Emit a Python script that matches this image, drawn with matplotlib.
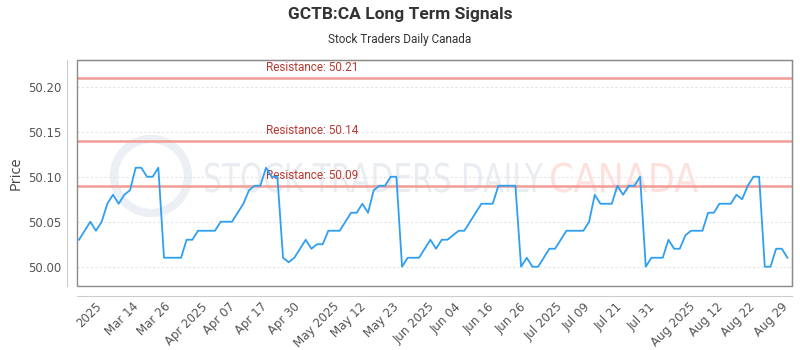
import numpy as np
import matplotlib
matplotlib.use("Agg")
import matplotlib.pyplot as plt
from matplotlib.patches import Rectangle, Circle, PathPatch
from matplotlib.textpath import TextPath
from matplotlib.font_manager import FontProperties
from matplotlib.transforms import IdentityTransform, Affine2D

# Daily closes, one value per trading day
prices = [
    50.03, 50.04, 50.05, 50.04, 50.05, 50.07, 50.08, 50.07, 50.08, 50.085,
    50.11, 50.11, 50.10, 50.10, 50.11, 50.01, 50.01, 50.01, 50.01, 50.03,
    50.03, 50.04, 50.04, 50.04, 50.04, 50.05,
    50.05, 50.05, 50.06, 50.07, 50.085, 50.09, 50.09, 50.11, 50.10, 50.10,
    50.01, 50.005, 50.01, 50.02, 50.03, 50.02, 50.025, 50.025, 50.04, 50.04,
    50.04, 50.05, 50.06, 50.06, 50.07, 50.06,
    50.085, 50.09, 50.09, 50.10, 50.10, 50.00, 50.01, 50.01, 50.01, 50.02,
    50.03, 50.02, 50.03, 50.03, 50.035, 50.04, 50.04, 50.05, 50.06, 50.07,
    50.07, 50.07, 50.09, 50.09, 50.09,
    50.09, 50.00, 50.01, 50.00, 50.00, 50.01, 50.02, 50.02, 50.03, 50.04,
    50.04, 50.04, 50.04, 50.05, 50.08, 50.07, 50.07, 50.07, 50.09, 50.08,
    50.09, 50.09, 50.10, 50.00, 50.01, 50.01,
    50.01, 50.03, 50.02, 50.02, 50.035, 50.04, 50.04, 50.04, 50.06, 50.06,
    50.07, 50.07, 50.07, 50.08, 50.075, 50.09, 50.10, 50.10, 50.00, 50.00,
    50.02, 50.02, 50.01,
]

date_labels = [
    "2025", "Mar 14", "Mar 26", "Apr 2025", "Apr 07", "Apr 17", "Apr 30",
    "May 2025", "May 12", "May 23", "Jun 2025", "Jun 04", "Jun 16", "Jun 26",
    "Jul 2025", "Jul 09", "Jul 21", "Jul 31", "Aug 2025", "Aug 12", "Aug 22",
    "Aug 29",
]

resistance = [50.21, 50.14, 50.09]

x = np.arange(len(prices))

fig = plt.figure(figsize=(8, 3.5), dpi=100)
ax = fig.add_axes([77 / 800, 1 - 286 / 350, 715 / 800, 226 / 350])

ax.set_xlim(-0.35, len(prices) - 0.2)
ax.set_ylim(49.9786, 50.2297)


def watermark(text, left, base, width, height, color):
    # squeeze a text path into a given pixel box (the logo font is condensed)
    tp = TextPath((0, 0), text, size=20, prop=FontProperties(family="DejaVu Sans"))
    ext = tp.get_extents()
    tr = (Affine2D().translate(-ext.x0, 0)
          .scale(width / ext.width, height / ext.height)
          .translate(left, 350 - base))
    ax.add_patch(PathPatch(tr.transform_path(tp), transform=IdentityTransform(),
                           facecolor=color, edgecolor="none", zorder=0))


ax.add_patch(Circle((151, 350 - 176), 37, transform=IdentityTransform(),
                    facecolor="none", edgecolor="#eceff4", linewidth=6,
                    zorder=0))
watermark("STOCK TRADERS DAILY", 205, 192, 338, 30, "#e9edf2")
watermark("CANADA", 551, 192, 147, 30, "#fde1dd")

# grid
for yv in [50.00, 50.05, 50.10, 50.15, 50.20]:
    ax.axhline(yv, color="#e4e4e4", linestyle=(0, (2, 2)), linewidth=0.8,
               zorder=1)

for r in resistance:
    ax.axhline(r, color="#f19c95", linewidth=1.8, zorder=2)
    ax.text(33, r + 0.004, f"Resistance: {r:.2f}", color="#b83a32",
            fontsize=8.5, family="Roboto", va="bottom", ha="left", zorder=3)

ax.plot(x, prices, color="#2e9ff2", linewidth=1.3, zorder=4)

yt = [50.00, 50.05, 50.10, 50.15, 50.20]
ax.set_yticks(yt)
ax.set_yticklabels([f"{v:.2f}" for v in yt])
ax.set_xticks(np.linspace(1.8, 122.1, len(date_labels)))
ax.set_xticklabels(date_labels)
ax.tick_params(axis="both", length=0, labelsize=8.5, colors="#555555",
               pad=4)
ax.tick_params(axis="x", labelrotation=45, pad=3)
for lbl in ax.get_xticklabels():
    lbl.set_ha("center")
    lbl.set_family("Open Sans")
for lbl in ax.get_yticklabels():
    lbl.set_family("Open Sans")

# box around plot plus offset axis lines
for s in ["top", "right"]:
    ax.spines[s].set_color("#8a8a8a")
for s in ["left", "bottom"]:
    ax.spines[s].set_position(("outward", 7.2))
    ax.spines[s].set_color("#cccccc")
ax.add_patch(Rectangle((0, 0), 1, 1, transform=ax.transAxes, fill=False,
                       edgecolor="#8a8a8a", linewidth=1, clip_on=False,
                       zorder=5))

ax.set_ylabel("Price", fontsize=10.5, color="#444444", family="Open Sans",
              labelpad=3)

fig.text(0.5, 1 - 15 / 350, "GCTB:CA Long Term Signals", ha="center",
         va="center", fontsize=12.5, fontweight="bold", color="#333333",
         family="Roboto")
fig.text(0.5, 1 - 39 / 350, "Stock Traders Daily Canada", ha="center",
         va="center", fontsize=8.5, color="#333333", family="Roboto")

fig.savefig("out.png", dpi=100)
